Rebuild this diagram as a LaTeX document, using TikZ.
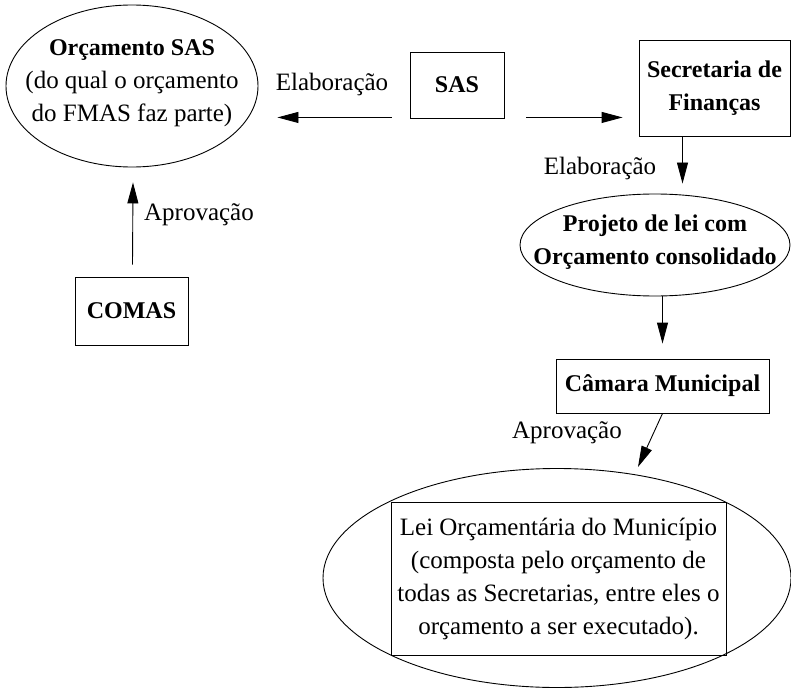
\documentclass[tikz,border=0pt]{standalone}
\usepackage{fontspec}
\setmainfont{Liberation Serif}
\usetikzlibrary{shapes.geometric,arrows.meta,calc}
\newcommand\bldtxt[1]{{\fontsize{24bp}{33bp}\selectfont\bfseries #1}}
\begin{document}
\begin{tikzpicture}[x=1bp,y=-1bp,
  every node/.style={font=\fontsize{25bp}{33bp}\selectfont, inner sep=0pt},
  boxnode/.style={draw, rectangle, line width=0.9bp},
  ellnode/.style={draw, ellipse, line width=0.9bp},
  txt/.style={align=center},
  arr/.style={-{Triangle[length=21bp,width=11bp]}, line width=0.9bp}]
\useasboundingbox (0,0) rectangle (791,688);

% nodes
\node[ellnode, minimum width=252bp, minimum height=162bp] (orc) at (132,86) {};
\node[txt] (orct) at (132,83) {\bldtxt{Orçamento SAS}\\(do qual o orçamento\\do FMAS faz parte)};
\node[boxnode, minimum width=94bp, minimum height=66bp] (sas) at (457,85) {\bldtxt{SAS}};
\node[boxnode, minimum width=151bp, minimum height=96bp, align=center] (sec) at (714.5,88) {\bldtxt{Secretaria de}\\\bldtxt{Finanças}};
\node[ellnode, minimum width=270bp, minimum height=102bp] (proj) at (655,245) {};
\node[txt] (projt) at (655,242) {\bldtxt{Projeto de lei com}\\\bldtxt{Orçamento consolidado}};
\node[boxnode, minimum width=213bp, minimum height=54bp] (cam) at (662.5,386) {\bldtxt{Câmara Municipal}};
\node[ellnode, minimum width=468bp, minimum height=219bp] (lei) at (557,578) {};
\node[boxnode, minimum width=335bp, minimum height=153bp, align=center] (leib) at (558.5,578.5) {Lei Orçamentária do Município\\(composta pelo orçamento de\\todas as Secretarias, entre eles o\\orçamento a ser executado).};
\node[boxnode, minimum width=113bp, minimum height=68bp] (comas) at (131.5,311) {\bldtxt{COMAS}};

% labels
\node (l1) at (332,84) {Elaboração};
\node (l2) at (600,168) {Elaboração};
\node (l3) at (199,215) {Aprovação};
\node (l4) at (567,433) {Aprovação};

% connectors
\draw[arr] ($(sas.south west)+(-18,-1)$) -- ($(orc.east |- sas.south west)+(19,-1)$);
\draw[arr] ($(sas.south east)+(22,-1)$) -- ($(sec.west |- sas.south east)+(-16,-1)$);
\draw[arr] ($(sec.south)+(-32,0)$) -- ($(proj.north -| sec.south)+(-32,-10)$);
\draw[arr] (proj.south -| cam.north) -- ($(cam.north)+(0,-15)$);
\draw[arr] (cam.south) -- ($(lei.center)+(81,-111)$);
\draw[arr] ($(comas.north)+(1,-12)$) -- ($(orc.south)+(1,15)$);
\end{tikzpicture}
\end{document}
